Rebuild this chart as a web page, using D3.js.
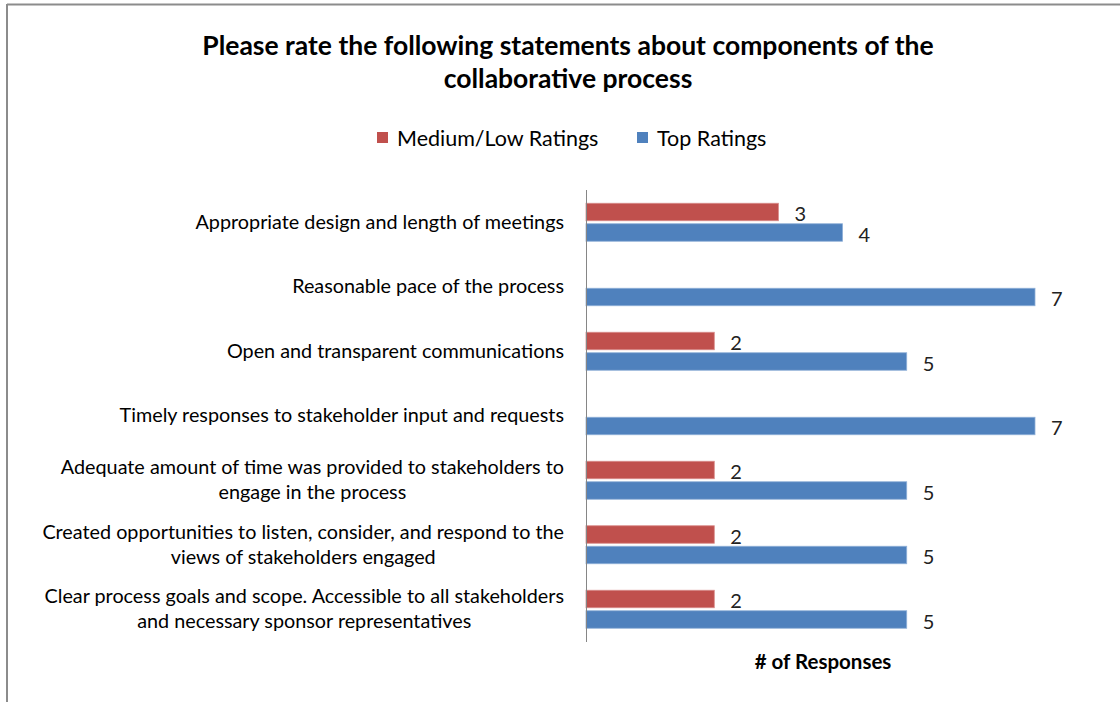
<!DOCTYPE html>
<html>
<head>
<meta charset="utf-8">
<script src="https://cdn.jsdelivr.net/npm/d3@7"></script>
<style>
  html, body { margin: 0; padding: 0; background: #fff; }
  svg { display: block; font-family: Lato, "Open Sans", sans-serif; }
</style>
</head>
<body>
<svg id="chart" width="1120" height="702"></svg>
<script>
// Survey results: counts of ratings per statement
const categories = [
  ["Appropriate design and length of meetings"],
  ["Reasonable pace of the process"],
  ["Open and transparent communications"],
  ["Timely responses to stakeholder input and requests"],
  ["Adequate amount of time was provided to stakeholders to", "engage in the process"],
  ["Created opportunities to listen, consider, and respond to the", "views of stakeholders engaged"],
  ["Clear process goals and scope. Accessible to all stakeholders", "and necessary sponsor representatives"]
];
const mediumLow = [3, 0, 2, 0, 2, 2, 2];
const topRatings = [4, 7, 5, 7, 5, 5, 5];
const seriesNames = ["Medium/Low Ratings", "Top Ratings"];
const seriesColors = ["#C0504D", "#4F81BD"];
const titleLines = ["Please rate the following statements about components of the", "collaborative process"];
const axisTitle = "# of Responses";

const svg = d3.select("#chart");
const W = 1120, H = 702;

// outer frame (top and left edges visible)
svg.append("line").attr("x1", 7).attr("x2", W).attr("y1", 4.5).attr("y2", 4.5)
  .attr("stroke", "#8c8c8c").attr("stroke-width", 2);
svg.append("line").attr("x1", 7).attr("x2", 7).attr("y1", 4).attr("y2", H)
  .attr("stroke", "#8c8c8c").attr("stroke-width", 2);

// title
const title = svg.append("text").attr("text-anchor", "middle")
  .attr("font-weight", "bold").attr("font-size", 26.5).attr("fill", "#000");
titleLines.forEach((t, i) => {
  title.append("tspan").attr("x", 568).attr("y", 55 + i * 33).text(t);
});

// legend
const legendItems = [{x: 377, i: 0}, {x: 637, i: 1}];
legendItems.forEach(({x, i}) => {
  svg.append("rect").attr("x", x).attr("y", 132).attr("width", 11).attr("height", 11)
    .attr("fill", seriesColors[i]);
  svg.append("text").attr("x", x + 20).attr("y", 145.5).attr("font-size", 21.5)
    .attr("fill", "#000").text(seriesNames[i]);
});

// plot area
const x0 = 586;
const x = d3.scaleLinear().domain([0, 7]).range([x0, 1035]);
const y = d3.scaleBand().domain(d3.range(categories.length)).range([190, 641.5]).paddingInner(0).paddingOuter(0);
const barH = 17.5, gap = 3;

const rows = svg.append("g");
categories.forEach((lines, i) => {
  const cy = y(i) + y.bandwidth() / 2;
  const vals = [mediumLow[i], topRatings[i]];
  vals.forEach((v, s) => {
    const by = cy - barH - gap / 2 + s * (barH + gap);
    if (v > 0) {
      rows.append("rect").attr("x", x(0)).attr("y", by)
        .attr("width", x(v) - x(0)).attr("height", barH)
        .attr("fill", seriesColors[s])
        .attr("stroke", s === 1 ? "#8fb0d8" : "#d98c8a").attr("stroke-width", 0.8);
      rows.append("text").attr("x", x(v) + 16).attr("y", by + barH / 2 + 9)
        .attr("font-size", 20).attr("fill", "#222").text(v);
    }
  });

  // category label: lines centred on each other, block right-aligned
  const g = rows.append("g");
  const tmp = lines.map(l => g.append("text").attr("font-size", 19.8).attr("fill", "#000").text(l));
  const widths = tmp.map(t => t.node().getComputedTextLength());
  const maxW = d3.max(widths);
  const right = 564;
  const lh = 25;
  const top = cy - (lines.length - 1) * lh / 2;
  tmp.forEach((t, k) => {
    t.attr("text-anchor", "middle").attr("x", right - maxW / 2).attr("y", top + k * lh + 6.5);
  });
});

// vertical category axis line
svg.append("line").attr("x1", x0 + 0.5).attr("x2", x0 + 0.5).attr("y1", 190).attr("y2", 642)
  .attr("stroke", "#868686").attr("stroke-width", 1);

// axis title
svg.append("text").attr("x", 823).attr("y", 669).attr("text-anchor", "middle")
  .attr("font-weight", "bold").attr("font-size", 20.5).attr("fill", "#000").text(axisTitle);
</script>
</body>
</html>
